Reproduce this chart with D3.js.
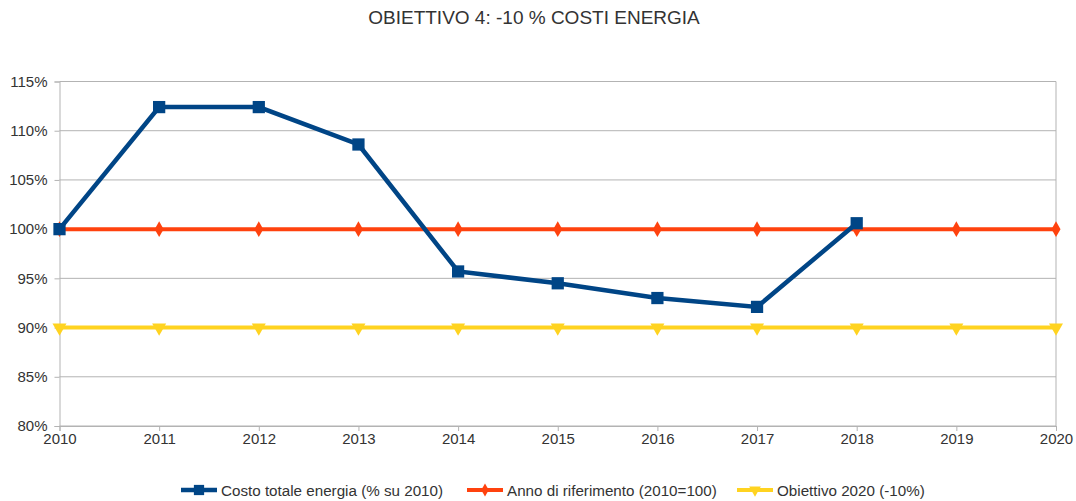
<!DOCTYPE html>
<html>
<head>
<meta charset="utf-8">
<script src="https://cdn.jsdelivr.net/npm/d3@7"></script>
<style>
  body { margin: 0; background: #fff; }
  text { font-family: "Liberation Sans", Arial, sans-serif; fill: #333; }
</style>
</head>
<body>
<div id="chart"></div>
<script>
var years = [2010, 2011, 2012, 2013, 2014, 2015, 2016, 2017, 2018, 2019, 2020];
var costoTotale = [100, 112.4, 112.4, 108.6, 95.7, 94.5, 93.0, 92.1, 100.6];
var annoRiferimento = [100, 100, 100, 100, 100, 100, 100, 100, 100, 100, 100];
var obiettivo2020 = [90, 90, 90, 90, 90, 90, 90, 90, 90, 90, 90];
var yTicks = [80, 85, 90, 95, 100, 105, 110, 115];

var series = [
  { name: "Costo totale energia (% su 2010)", values: costoTotale, color: "#004586", width: 4.5, symbol: d3.symbolSquare, size: 150, rot: 0 },
  { name: "Anno di riferimento (2010=100)", values: annoRiferimento, color: "#ff420e", width: 4, symbol: d3.symbolDiamond, size: 70, rot: 0 },
  { name: "Obiettivo 2020 (-10%)", values: obiettivo2020, color: "#ffd320", width: 4, symbol: d3.symbolTriangle, size: 85, rot: 180 }
];

var W = 1076, H = 501;

var svg = d3.select("#chart").append("svg").attr("width", W).attr("height", H);

var x = d3.scaleLinear().domain([2010, 2020]).range([59.5, 1056]);
var y = d3.scaleLinear().domain([80, 115]).range([426, 81.5]);

// title
svg.append("text")
   .attr("x", 534).attr("y", 24)
   .attr("text-anchor", "middle")
   .attr("font-size", "19px")
   .text("OBIETTIVO 4: -10 % COSTI ENERGIA");

// horizontal grid
svg.append("g").selectAll("line")
   .data(yTicks)
   .enter().append("line")
   .attr("x1", x(2010)).attr("x2", x(2020))
   .attr("y1", function(d) { return y(d); })
   .attr("y2", function(d) { return y(d); })
   .attr("stroke", "#b3b3b3").attr("stroke-width", 1);

// right border
svg.append("line")
   .attr("x1", x(2020)).attr("x2", x(2020))
   .attr("y1", y(115)).attr("y2", y(80))
   .attr("stroke", "#b3b3b3");

// y axis
var yAxis = svg.append("g")
   .attr("transform", "translate(" + x(2010) + ",0)")
   .call(d3.axisLeft(y).tickValues(yTicks).tickSize(5).tickPadding(7).tickFormat(function(d) { return d + "%"; }));
yAxis.select(".domain").attr("stroke", "#b3b3b3");
yAxis.selectAll(".tick line").attr("stroke", "#b3b3b3");
yAxis.selectAll("text").attr("font-size", "15px").attr("fill", "#333")
     .attr("font-family", "Liberation Sans, Arial, sans-serif");

// x axis
var xAxis = svg.append("g")
   .attr("transform", "translate(0," + y(80) + ")")
   .call(d3.axisBottom(x).tickValues(years).tickSize(5).tickPadding(2).tickFormat(d3.format("d")));
xAxis.select(".domain").attr("stroke", "#b3b3b3");
xAxis.selectAll(".tick line").attr("stroke", "#b3b3b3");
xAxis.selectAll("text").attr("font-size", "15px").attr("fill", "#333")
     .attr("font-family", "Liberation Sans, Arial, sans-serif");

var line = d3.line()
   .x(function(d, i) { return x(years[i]); })
   .y(function(d) { return y(d); });

// draw from back to front: yellow, orange, blue
series.slice().reverse().forEach(function(s) {
  svg.append("path")
     .datum(s.values)
     .attr("d", line)
     .attr("fill", "none")
     .attr("stroke", s.color)
     .attr("stroke-width", s.width)
     .attr("stroke-linejoin", "miter");
  svg.append("g").selectAll("path")
     .data(s.values)
     .enter().append("path")
     .attr("d", d3.symbol().type(s.symbol).size(s.size))
     .attr("transform", function(d, i) {
       return "translate(" + x(years[i]) + "," + y(d) + ") rotate(" + s.rot + ")";
     })
     .attr("fill", s.color);
});

// legend
var legendX = [181, 467, 737];
var legend = svg.append("g");
series.forEach(function(s, i) {
  var g = legend.append("g").attr("transform", "translate(" + legendX[i] + ",490)");
  g.append("line").attr("x1", 0).attr("x2", 36).attr("y1", 0).attr("y2", 0)
   .attr("stroke", s.color).attr("stroke-width", s.width);
  g.append("path")
   .attr("d", d3.symbol().type(s.symbol).size(s.size * 0.7))
   .attr("transform", "translate(18,0) rotate(" + s.rot + ")")
   .attr("fill", s.color);
  g.append("text").attr("x", 40).attr("y", 5.5)
   .attr("font-size", "15.2px")
   .text(s.name);
});
</script>
</body>
</html>
